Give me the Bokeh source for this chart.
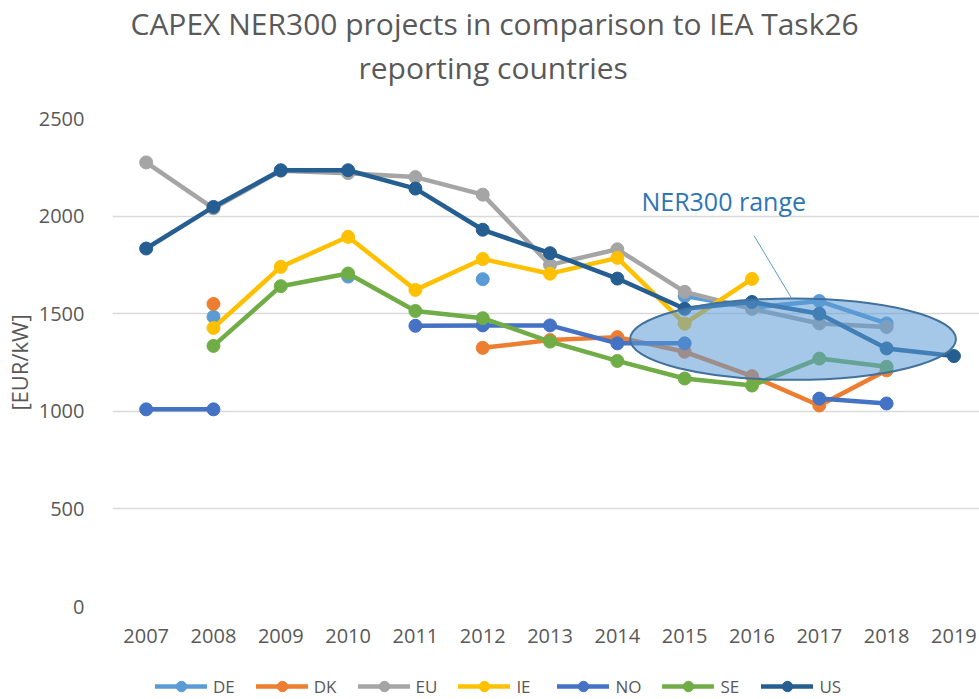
from bokeh.plotting import figure
from bokeh.layouts import column
from bokeh.models import Range1d, FixedTicker, Legend, LegendItem, Title
from bokeh.embed import file_html
from bokeh.resources import INLINE
from bokeh.core.properties import value

nan = float("nan")

years = [2007, 2008, 2009, 2010, 2011, 2012, 2013, 2014, 2015, 2016, 2017, 2018, 2019]
year_labels = ["2007", "2008", "2009", "2010", "2011", "2012", "2013",
               "2014", "2015", "2016", "2017", "2018", "2019"]
y_ticks = [0, 500, 1000, 1500, 2000, 2500]

de = [nan, 1484, nan, 1690, nan, 1677, nan, nan, 1590, 1530, 1565, 1450, nan]
dk = [nan, 1550, nan, nan, nan, 1325, 1365, 1380, 1305, 1180, 1030, 1210, nan]
eu = [2275, 2040, 2232, 2220, 2200, 2110, 1750, 1830, 1612, 1525, 1450, 1432, nan]
ie = [nan, 1427, 1740, 1894, 1622, 1780, 1705, 1786, 1449, 1678, nan, nan, nan]
no = [1010, 1010, nan, nan, 1438, 1440, 1440, 1348, 1348, nan, 1065, 1040, nan]
se = [nan, 1335, 1641, 1706, 1514, 1477, 1357, 1258, 1168, 1132, 1270, 1228, nan]
us = [1834, 2047, 2235, 2235, 2141, 1930, 1810, 1680, 1525, 1560, 1500, 1322, 1283]

series_names = ["DE", "DK", "EU", "IE", "NO", "SE", "US"]
series_values = [de, dk, eu, ie, no, se, us]
series_colors = ["#5B9BD5", "#ED7D31", "#A5A5A5", "#FFC000", "#4472C4", "#70AD47", "#255E91"]

# NER300 range (ellipse annotation)
ner300_year_start = 2014.19
ner300_year_end = 2019.03
ner300_low = 1161
ner300_high = 1578
ner300_label = "NER300 range"

title_line1 = "CAPEX NER300 projects in comparison to IEA Task26"
title_line2 = "reporting countries"
y_label = "[EUR/kW]"

FONT = "Open Sans"
GREY = "#595959"

p = figure(width=979, height=660,
           x_range=Range1d(2006.5, 2019.38), y_range=Range1d(0, 2500),
           output_backend="svg", toolbar_location=None,
           min_border_left=112, min_border_right=0,
           min_border_top=118, min_border_bottom=54)
p.outline_line_color = None
p.background_fill_color = "white"
p.border_fill_color = "white"

# grid
p.xgrid.grid_line_color = None
p.ygrid.grid_line_color = "#D9D9D9"
p.ygrid.grid_line_width = 1.5
p.ygrid.ticker = FixedTicker(ticks=y_ticks)

# axes
p.xaxis.ticker = FixedTicker(ticks=years)
p.xaxis.major_label_overrides = {y: l for y, l in zip(years, year_labels)}
p.xaxis.axis_line_color = None
p.xaxis.major_tick_line_color = None
p.xaxis.minor_tick_line_color = None
p.xaxis.major_label_text_font = FONT
p.xaxis.major_label_text_font_size = "20px"
p.xaxis.major_label_text_color = GREY
p.xaxis.major_label_standoff = 16

p.yaxis.ticker = FixedTicker(ticks=y_ticks)
p.yaxis.axis_line_color = None
p.yaxis.major_tick_line_color = None
p.yaxis.minor_tick_line_color = None
p.yaxis.major_label_text_font = FONT
p.yaxis.major_label_text_font_size = "20px"
p.yaxis.major_label_text_color = GREY
p.yaxis.major_label_standoff = 22
p.yaxis.axis_label = y_label
p.yaxis.axis_label_text_font = FONT
p.yaxis.axis_label_text_font_size = "22px"
p.yaxis.axis_label_text_font_style = "normal"
p.yaxis.axis_label_text_color = GREY
p.yaxis.axis_label_standoff = 2

for name, vals, color in zip(series_names, series_values, series_colors):
    p.line(years, vals, line_color=color, line_width=4.5,
           line_join="round", line_cap="round")
    p.scatter(years, vals, size=13, fill_color=color, line_color=color)

# NER300 ellipse
cx = (ner300_year_start + ner300_year_end) / 2
cy = (ner300_low + ner300_high) / 2
p.ellipse(x=[cx], y=[cy], width=[ner300_year_end - ner300_year_start],
          height=[ner300_high - ner300_low],
          fill_color="#5B9BD5", fill_alpha=0.55,
          line_color="#41719C", line_width=2)

# callout
p.segment(x0=[2016.03], y0=[1900], x1=[2016.59], y1=[ner300_high],
          line_color="#5B9BD5", line_width=1)
p.text(x=[2015.58], y=[2075], text=[ner300_label], text_align="center",
       text_baseline="alphabetic", text_font=value(FONT),
       text_font_size="25px", text_color="#2E75B6")

# title: spacer next to the frame, then line 2, then line 1
p.add_layout(Title(text=" ", text_font_size="2px", standoff=26), "above")
p.add_layout(Title(text=title_line2, align="left", offset=246, standoff=2,
                   text_font=FONT, text_font_size="30px",
                   text_font_style="normal", text_color=GREY), "above")
p.add_layout(Title(text=title_line1, align="left", offset=18, standoff=0,
                   text_font=FONT, text_font_size="30px",
                   text_font_style="normal", text_color=GREY), "above")

# legend strip below the chart (same series, drawn outside its visible range)
leg = figure(width=979, height=39, output_backend="svg", toolbar_location=None,
             x_range=Range1d(0, 1), y_range=Range1d(0, 1),
             x_axis_location=None, y_axis_location=None, min_border=0)
leg.grid.visible = False
leg.outline_line_color = None
leg.background_fill_color = "white"
leg.border_fill_color = "white"

items = []
for name, vals, color in zip(series_names, series_values, series_colors):
    rl = leg.line(years, vals, line_color=color, line_width=4.5, line_cap="round")
    rs = leg.scatter(years, vals, size=11, fill_color=color, line_color=color)
    items.append(LegendItem(label=name, renderers=[rl, rs]))

legend = Legend(items=items, orientation="horizontal", location=(43, 0),
                margin=0, padding=0, spacing=21, label_standoff=6,
                glyph_width=52, glyph_height=26,
                background_fill_alpha=0, border_line_color=None,
                label_text_font=FONT, label_text_font_size="17px",
                label_text_color=GREY)
leg.add_layout(legend)

layout = column(p, leg, spacing=0)
open("out.html", "w").write(file_html(layout, INLINE))
